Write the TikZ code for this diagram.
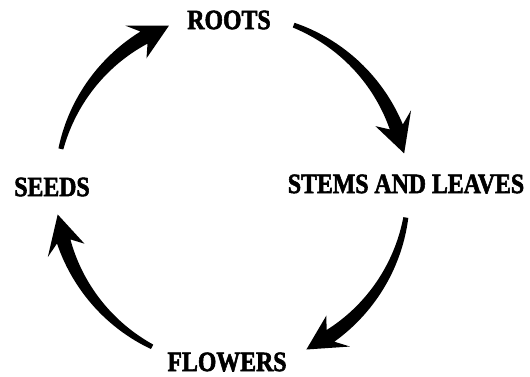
\documentclass[tikz,border=0pt]{standalone}
\usepackage{fontspec}
\usepackage{tikz}
\newfontfamily\stagefont[FakeStretch=0.85,FakeBold=2]{Liberation Serif}
\tikzset{stage/.style={font=\stagefont\bfseries\fontsize{28}{30}\selectfont, inner sep=0pt}}
% tapered arrow along the circle: tail angle, tip angle
\newcommand{\cyclearrow}[2]{%
	\pgfmathsetmacro{\ardir}{(#2-#1)/abs(#2-#1)}%
	\pgfmathsetmacro{\arnotch}{#2-9*\ardir}%
	\pgfmathsetmacro{\arbarb}{#2-12*\ardir}%
	\fill plot[domain=#1:\arnotch, samples=40, variable=\t] (\t:{176+2.5+4.5*(\t-#1)/(\arnotch-#1)})
		-- (\arbarb:196) -- (#2:176) -- (\arbarb:157)
		-- plot[domain=\arnotch:#1, samples=40, variable=\t] (\t:{176-2.5-4.5*(\t-#1)/(\arnotch-#1)}) -- cycle;
}
\begin{document}
\begin{tikzpicture}[x=1pt,y=1pt]
			\useasboundingbox (0,0) rectangle (530,377);
			\node[stage] (roots) at (229,357) {ROOTS};
			\node[stage] (stems) at (406,193) {STEMS AND LEAVES};
			\node[stage] (flowers) at (227,15) {FLOWERS};
			\node[stage] (seeds) at (52,190) {SEEDS};
			\begin{scope}[shift={(232,187)}]
			\cyclearrow{69.5}{12}
			\cyclearrow{-9}{-65}
			\cyclearrow{-117}{-172}
			\cyclearrow{166.5}{111}
			\end{scope}
	\end{tikzpicture}
\end{document}
